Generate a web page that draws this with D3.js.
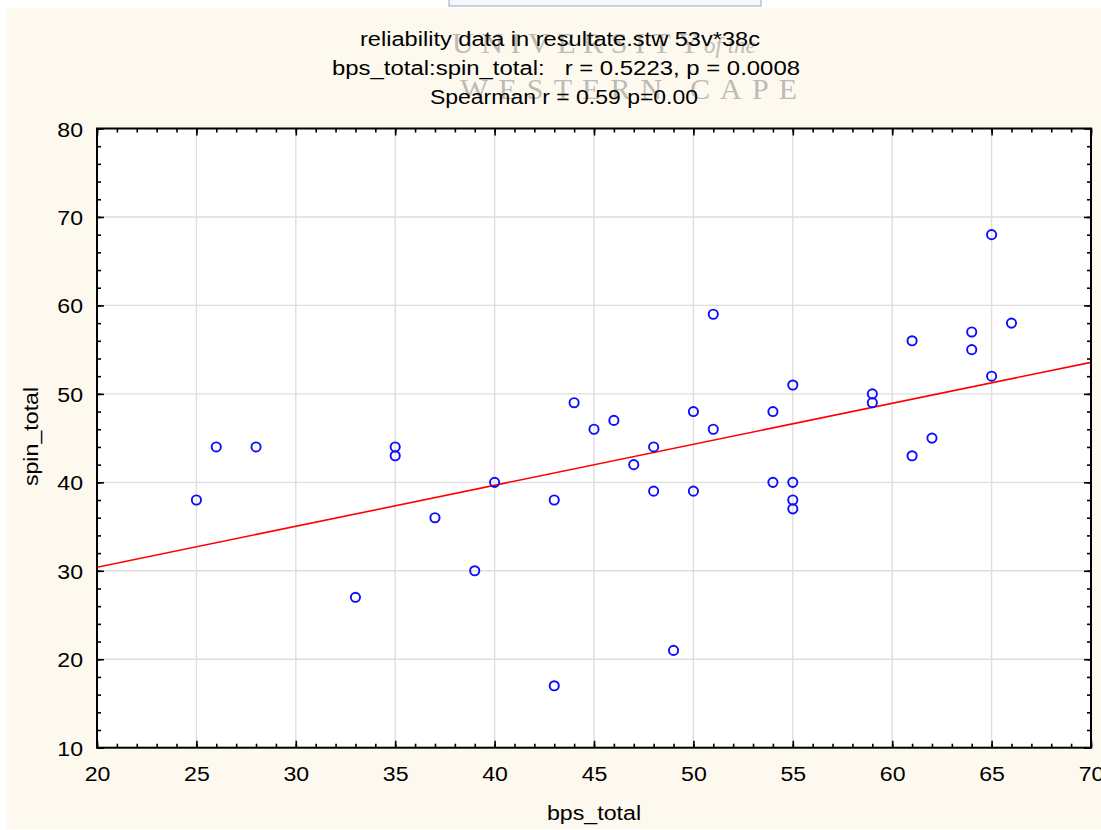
<!DOCTYPE html>
<html>
<head>
<meta charset="utf-8">
<script src="https://cdn.jsdelivr.net/npm/d3@7"></script>
<style>
  html, body { margin: 0; padding: 0; background: #ffffff; }
  svg { display: block; }
  text { font-family: "Liberation Sans", Arial, Helvetica, sans-serif; }
</style>
</head>
<body>
<svg id="chart" width="1101" height="830"></svg>
<script>
// ---- data ----
const bpsTotal  = [25, 26, 28, 33, 35, 35, 37, 39, 40, 43, 43, 44, 45, 46, 47, 48, 48, 49, 50, 50,
                   51, 51, 54, 54, 55, 55, 55, 55, 59, 59, 61, 61, 62, 64, 64, 65, 65, 66];
const spinTotal = [38, 44, 44, 27, 44, 43, 36, 30, 40, 38, 17, 49, 46, 47, 42, 44, 39, 21, 48, 39,
                   59, 46, 48, 40, 51, 40, 38, 37, 50, 49, 56, 43, 45, 57, 55, 68, 52, 58];
const xTicks = [20, 25, 30, 35, 40, 45, 50, 55, 60, 65, 70];
const yTicks = [10, 20, 30, 40, 50, 60, 70, 80];
const xMinor = d3.range(20, 71, 1);
const yMinor = d3.range(10, 81, 2);
const titleLines = [
  "reliability data in resultate.stw 53v*38c",
  "bps_total:spin_total:   r = 0.5223, p = 0.0008",
  "Spearman r = 0.59 p=0.00"
];
const xLabel = "bps_total";
const yLabel = "spin_total";

// ---- layout ----
const L = 97, R = 1091, T = 128.5, B = 747.7;
const SX = 1.1; // horizontal glyph stretch seen in the reference
const svg = d3.select("#chart");

// background
svg.append("rect").attr("x", 7).attr("y", 8).attr("width", 1094).attr("height", 821).attr("fill", "#fdf9ee");
svg.append("rect").attr("x", 449).attr("y", -2).attr("width", 312).attr("height", 8)
  .attr("fill", "#f4f6fb").attr("stroke", "#aab6cc").attr("stroke-width", 1.2);

// watermark
const wm = svg.append("g").attr("fill", "#bdbbb5");
wm.append("text").attr("x", 452).attr("y", 53).attr("font-size", 30)
  .attr("textLength", 248).attr("lengthAdjust", "spacing").style("font-family", "'Liberation Serif', serif")
  .text("UNIVERSITY");
wm.append("text").attr("x", 704).attr("y", 53).attr("font-size", 23).attr("font-style", "italic")
  .style("font-family", "'Liberation Serif', serif").text("of the");
wm.append("text").attr("x", 460).attr("y", 99).attr("font-size", 30)
  .attr("textLength", 337).attr("lengthAdjust", "spacing").style("font-family", "'Liberation Serif', serif")
  .text("WESTERN CAPE");

// title
const titleX = [360, 332, 430], titleLen = [400, 468, 268], titleY = [46, 75, 104];
titleLines.forEach((t, i) => {
  svg.append("text").attr("x", titleX[i]).attr("y", titleY[i])
    .attr("font-size", 20).attr("fill", "#000")
    .attr("textLength", titleLen[i]).attr("lengthAdjust", "spacingAndGlyphs")
    .style("white-space", "pre").text(t);
});

// scales
const x = d3.scaleLinear().domain([20, 70]).range([L, R]);
const y = d3.scaleLinear().domain([10, 80]).range([B, T]);

// plot area
svg.append("rect").attr("x", L).attr("y", T).attr("width", R - L).attr("height", B - T).attr("fill", "#ffffff");

// grid
const grid = svg.append("g").attr("stroke", "#dedede").attr("stroke-width", 1.4);
grid.selectAll("line.gx").data(xTicks.slice(1, -1)).join("line")
  .attr("x1", d => x(d)).attr("x2", d => x(d)).attr("y1", T).attr("y2", B);
grid.selectAll("line.gy").data(yTicks.slice(1, -1)).join("line")
  .attr("y1", d => y(d)).attr("y2", d => y(d)).attr("x1", L).attr("x2", R);

// clip
svg.append("clipPath").attr("id", "clip").append("rect")
  .attr("x", L).attr("y", T).attr("width", R - L).attr("height", B - T);

// regression line (least squares from the data)
const mx = d3.mean(bpsTotal), my = d3.mean(spinTotal);
let sxy = 0, sxx = 0;
bpsTotal.forEach((v, i) => { sxy += (v - mx) * (spinTotal[i] - my); sxx += (v - mx) * (v - mx); });
const slope = sxy / sxx, icpt = my - slope * mx;
svg.append("line").attr("clip-path", "url(#clip)")
  .attr("x1", x(20)).attr("y1", y(icpt + slope * 20))
  .attr("x2", x(70)).attr("y2", y(icpt + slope * 70))
  .attr("stroke", "#ff0000").attr("stroke-width", 1.6);

// points
svg.append("g").selectAll("circle").data(bpsTotal).join("circle")
  .attr("cx", d => x(d)).attr("cy", (d, i) => y(spinTotal[i])).attr("r", 4.6)
  .attr("fill", "none").attr("stroke", "#0c0cff").attr("stroke-width", 1.9);

// axes
function styleAxis(g) {
  g.select(".domain").remove();
  g.selectAll("line").attr("stroke", "#000").attr("stroke-width", 1.6);
}
// bottom
svg.append("g").attr("transform", `translate(0,${B})`)
  .call(d3.axisBottom(x).tickValues(xMinor).tickSize(-4).tickFormat(""))
  .call(styleAxis);
const bx = svg.append("g").attr("transform", `translate(0,${B})`)
  .call(d3.axisBottom(x).tickValues(xTicks).tickSize(-7).tickFormat(d3.format("d")))
  .call(styleAxis);
bx.selectAll("text").attr("y", 33.5).attr("dy", 0).attr("font-size", 21).attr("fill", "#000")
  .attr("font-family", null).attr("transform", `scale(${SX},1)`);
// top
svg.append("g").attr("transform", `translate(0,${T})`)
  .call(d3.axisTop(x).tickValues(xMinor).tickSize(-4).tickFormat("")).call(styleAxis);
svg.append("g").attr("transform", `translate(0,${T})`)
  .call(d3.axisTop(x).tickValues(xTicks).tickSize(-7).tickFormat("")).call(styleAxis);
// left
svg.append("g").attr("transform", `translate(${L},0)`)
  .call(d3.axisLeft(y).tickValues(yMinor).tickSize(-4).tickFormat("")).call(styleAxis);
const ly = svg.append("g").attr("transform", `translate(${L},0)`)
  .call(d3.axisLeft(y).tickValues(yTicks).tickSize(-7).tickFormat(d3.format("d")))
  .call(styleAxis);
ly.selectAll("text").attr("x", -14 / SX).attr("dy", "0.36em").attr("font-size", 21).attr("fill", "#000")
  .attr("font-family", null).attr("transform", `scale(${SX},1)`);
// right
svg.append("g").attr("transform", `translate(${R},0)`)
  .call(d3.axisRight(y).tickValues(yMinor).tickSize(-4).tickFormat("")).call(styleAxis);
svg.append("g").attr("transform", `translate(${R},0)`)
  .call(d3.axisRight(y).tickValues(yTicks).tickSize(-7).tickFormat("")).call(styleAxis);

// frame
svg.append("rect").attr("x", L).attr("y", T).attr("width", R - L).attr("height", B - T)
  .attr("fill", "none").attr("stroke", "#000").attr("stroke-width", 2);

// axis titles
svg.append("text").attr("transform", `translate(${(L + R) / 2},820) scale(1.16,1)`)
  .attr("text-anchor", "middle").attr("font-size", 20).attr("fill", "#000").text(xLabel);
svg.append("text").attr("transform", `translate(38,436.5) rotate(-90) scale(1.16,1)`)
  .attr("text-anchor", "middle").attr("font-size", 20).attr("fill", "#000").text(yLabel);
</script>
</body>
</html>
